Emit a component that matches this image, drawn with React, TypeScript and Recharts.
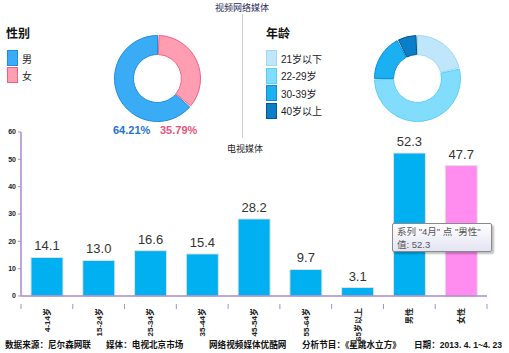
import React from 'react';
import { PieChart, Pie, Cell, BarChart, Bar, XAxis, YAxis, LabelList } from 'recharts';

const genderNames = ['男', '女'];
const genderShares = [64.21, 35.79];
const genderColors = ['#3AACF6', '#FF9DB2'];
const genderStrokes = ['#1E8CE6', '#F2607E'];

const ageNames = ['21岁以下', '22-29岁', '30-39岁', '40岁以上'];
const ageShares = [21.4, 54.2, 17.5, 6.9];
const ageColors = ['#BFE6FB', '#82DDFC', '#1AB0F2', '#0A7EC6'];
const ageStrokes = ['#9FD8F6', '#5CCFF6', '#0B8FD6', '#06558F'];

const tvCategories = ['4-14岁', '15-24岁', '25-34岁', '35-44岁', '45-54岁', '55-64岁', '65岁以上', '男性', '女性'];
const tvValues = [14.1, 13.0, 16.6, 15.4, 28.2, 9.7, 3.1, 52.3, 47.7];
const yTicks = [0, 10, 20, 30, 40, 50, 60];

const genderData = genderNames.map((name, i) => ({ name, value: genderShares[i] }));
const ageData = ageNames.map((name, i) => ({ name, value: ageShares[i] }));
const tvData = tvCategories.map((name, i) => ({ name, value: tvValues[i] }));

const W = 509;
const H = 353;
const AXIS = '#A98BCB';
const BAND = (487 - 21) / tvCategories.length;

function XTick(props: any) {
  const { x, y, payload, index } = props;
  const last = index === tvCategories.length - 1;
  return (
    <g>
      <line x1={x - BAND / 2} y1={y - 8} x2={x - BAND / 2} y2={y - 3} stroke={AXIS} />
      {last && <line x1={x + BAND / 2} y1={y - 8} x2={x + BAND / 2} y2={y - 3} stroke={AXIS} />}
      <text
        x={0}
        y={0}
        transform={`translate(${x + 3},${y - 4}) rotate(-90)`}
        textAnchor="end"
        fontSize={8}
        fontWeight="bold"
        fill="#222"
        fontFamily="'Liberation Sans', 'Noto Sans CJK SC', sans-serif"
      >
        {payload.value}
      </text>
    </g>
  );
}

function LegendBox({ color, stroke, label, top, left }: any) {
  return (
    <div style={{ position: 'absolute', left, top, display: 'flex', alignItems: 'center' }}>
      <div style={{ width: 9, height: 14, background: color, border: `1px solid ${stroke}` }} />
      <span style={{ marginLeft: 4, fontSize: 10, color: '#222' }}>{label}</span>
    </div>
  );
}

export default function App() {
  const font = "'Liberation Sans', 'Noto Sans CJK SC', sans-serif";
  return (
    <div style={{ position: 'absolute', left: 0, top: 0, width: W, height: H, background: '#fff', fontFamily: font, overflow: 'hidden' }}>
      {/* bar chart: 电视媒体 */}
      <div style={{ position: 'absolute', left: 0, top: 0 }}>
        <BarChart width={W} height={H} data={tvData} margin={{ top: 132, right: 22, bottom: 0, left: 0 }}>
          <YAxis
            width={21}
            domain={[0, 60]}
            ticks={yTicks}
            interval={0}
            axisLine={{ stroke: AXIS, strokeWidth: 1.5 }}
            tickLine={{ stroke: AXIS }}
            tickSize={3}
            tick={{ fontSize: 7, fontWeight: 'bold', fill: '#222', fontFamily: 'Liberation Sans' }}
          />
          <XAxis
            dataKey="name"
            height={57}
            interval={0}
            axisLine={{ stroke: AXIS, strokeWidth: 1.5 }}
            tickLine={false}
            tick={<XTick />}
            tickMargin={10}
          />
          <Bar dataKey="value" barSize={32} isAnimationActive={false}>
            {tvData.map((d, i) => (
              <Cell key={d.name} fill={i === tvData.length - 1 ? '#FF8CEE' : '#00B0F0'} stroke="#E2E2E2" strokeWidth={1} />
            ))}
            <LabelList dataKey="value" position="top" offset={7} formatter={(v: any) => Number(v).toFixed(1)}
              style={{ fontSize: 13, fill: '#333', fontFamily: 'Liberation Sans' }} />
          </Bar>
        </BarChart>
      </div>

      {/* donuts: 视频网络媒体 */}
      <div style={{ position: 'absolute', left: 0, top: 0 }}>
        <PieChart width={W} height={140} margin={{ top: 0, right: 0, bottom: 0, left: 0 }}>
          <Pie data={genderData} dataKey="value" cx={157.5} cy={78.5} innerRadius={24} outerRadius={43}
            startAngle={90} endAngle={450} isAnimationActive={false} paddingAngle={2}>
            {genderData.map((d, i) => (
              <Cell key={d.name} fill={genderColors[i]} stroke={genderStrokes[i]} strokeWidth={1} />
            ))}
          </Pie>
          <Pie data={ageData} dataKey="value" cx={417.5} cy={78.5} innerRadius={24} outerRadius={43}
            startAngle={90} endAngle={-270} isAnimationActive={false} paddingAngle={2}>
            {ageData.map((d, i) => (
              <Cell key={d.name} fill={ageColors[i]} stroke={ageStrokes[i]} strokeWidth={1} />
            ))}
          </Pie>
        </PieChart>
      </div>

      <div style={{ position: 'absolute', left: 0, width: 484, top: 1, textAlign: 'center', fontSize: 9, color: '#1F2A5A' }}>视频网络媒体</div>
      <div style={{ position: 'absolute', left: 242, top: 14, width: 1, height: 124, background: '#D0D0D0' }} />
      <div style={{ position: 'absolute', left: 227, top: 142, fontSize: 9, color: '#222' }}>电视媒体</div>

      <div style={{ position: 'absolute', left: 6, top: 24, fontSize: 12, fontWeight: 'bold', color: '#111' }}>性别</div>
      {genderNames.map((n, i) => (
        <LegendBox key={n} color={genderColors[i]} stroke={genderStrokes[i]} label={n} left={7} top={50 + i * 17} />
      ))}
      <div style={{ position: 'absolute', left: 113, top: 124, fontSize: 11, fontWeight: 'bold', color: '#1E72D2' }}>
        {genderShares[0].toFixed(2)}%
      </div>
      <div style={{ position: 'absolute', left: 160, top: 124, fontSize: 11, fontWeight: 'bold', color: '#F0507A' }}>
        {genderShares[1].toFixed(2)}%
      </div>

      <div style={{ position: 'absolute', left: 266, top: 24, fontSize: 12, fontWeight: 'bold', color: '#111' }}>年龄</div>
      {ageNames.map((n, i) => (
        <LegendBox key={n} color={ageColors[i]} stroke={ageStrokes[i]} label={n} left={266} top={50 + i * 17.5} />
      ))}

      {/* tooltip as captured */}
      <div style={{
        position: 'absolute', left: 392, top: 223, width: 100, height: 29,
        border: '1px solid #8A8A8A', borderRadius: 2,
        background: 'linear-gradient(#FFFFFF, #E4E4F4)',
        boxShadow: '2px 2px 2px rgba(0,0,0,0.25)',
        fontSize: 9.5, color: '#555', lineHeight: '13px', padding: '1px 4px', boxSizing: 'border-box',
      }}>
        <div>系列 "4月" 点 "男性"</div>
        <div>值: 52.3</div>
      </div>

      {/* footer */}
      {[
        ['数据来源：尼尔森网联', 5],
        ['媒体：电视北京市场', 106],
        ['网络视频媒体优酷网', 209],
        ['分析节目：《星跳水立方》', 302],
        ['日期：2013. 4. 1~4. 23', 414],
      ].map(([t, x]) => (
        <div key={t as string} style={{ position: 'absolute', left: x as number, top: 338, fontSize: 8.6, fontWeight: 'bold', color: '#111', whiteSpace: 'nowrap' }}>
          {t}
        </div>
      ))}
    </div>
  );
}
